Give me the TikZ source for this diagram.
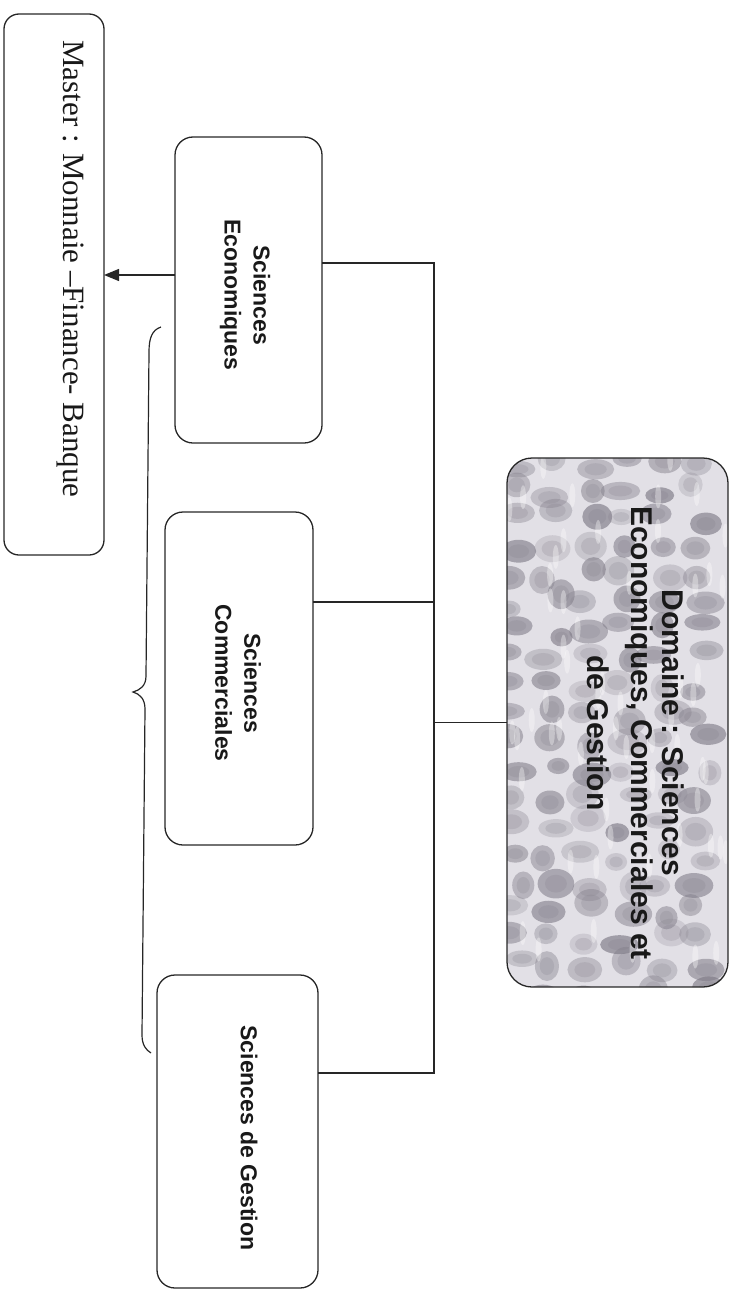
\documentclass[tikz,border=0pt]{standalone}
\usepackage{fontspec}
\setmainfont{Liberation Serif}
\newfontfamily\arialfont{Liberation Sans}
\usetikzlibrary{arrows.meta}
\definecolor{texbase}{RGB}{226,224,230}
\definecolor{texdark}{RGB}{125,121,133}
\tikzset{
  box/.style={draw=black!85, line width=1.3pt, rounded corners=18pt, inner sep=0pt, outer sep=0pt, fill=none},
  conn/.style={draw=black!85, line width=1.3pt},
  arr/.style={conn, -{Triangle[length=15pt,width=12pt]}},
  lbl/.style={rotate=-90, align=center, inner sep=0pt, text=black!90},
  sanslbl/.style={lbl, font=\arialfont\bfseries\fontsize{23}{29}\selectfont},
  domlbl/.style={lbl, font=\arialfont\bfseries\fontsize{30}{31}\selectfont},
  mastlbl/.style={lbl, font=\fontsize{31}{36}\selectfont},
}
\begin{document}
\begin{tikzpicture}[x=1pt,y=-1pt]
\useasboundingbox (0,0) rectangle (742,1290);
% textured background of the Domaine box
\begin{scope}
  \clip[rounded corners=25pt] (507,458) rectangle (728,987);
  \fill[texbase] (507,458) rectangle (728,987);
  \pgfmathsetseed{11}
  \foreach \cx in {515,552,...,735} {
    \foreach \cy in {462,490,...,995} {
      \pgfmathsetmacro\jx{\cx+20*rnd-10}
      \pgfmathsetmacro\jy{\cy+16*rnd-8}
      \pgfmathsetmacro\op{0.2+0.45*rnd}
      \pgfmathsetmacro\rx{11+9*rnd}
      \pgfmathsetmacro\ry{8+7*rnd}
      \fill[texdark, opacity=\op] (\jx,\jy) ellipse [x radius=\rx, y radius=\ry];
      \fill[texdark, opacity=0.2] (\jx,\jy) ellipse [x radius=0.6*\rx, y radius=0.6*\ry];
    }
  }
  \foreach \i in {1,...,60} {
    \pgfmathsetmacro\wx{507+221*rnd}
    \pgfmathsetmacro\wy{458+529*rnd}
    \fill[white, opacity=0.35] (\wx,\wy) ellipse [x radius=3, y radius=12];
  }
\end{scope}
% boxes
\node[box, rounded corners=15pt, minimum width=100pt, minimum height=541pt] (master) at (54,284.5) {};
\node[box, minimum width=147pt, minimum height=306pt] (se) at (248.5,290) {};
\node[box, minimum width=148pt, minimum height=333pt] (sc) at (239,678.5) {};
\node[box, minimum width=161pt, minimum height=313pt] (sg) at (237.5,1131.5) {};
\node[box, rounded corners=25pt, minimum width=221pt, minimum height=529pt] (dom) at (617.5,722.5) {};
% texts
\node[mastlbl] (master-t) at (70,269) {Master : Monnaie --Finance- Banque};
\node[sanslbl] (se-t) at (245,295) {Sciences\\Economiques};
\node[sanslbl] (sc-t) at (238,683) {Sciences\\Commerciales};
\node[sanslbl] (sg-t) at (249,1138) {Sciences de Gestion};
\node[domlbl] (dom-t) at (636,733) {Domaine : Sciences\\Economiques, Commerciales et\\[13pt]de Gestion};
% connectors
\coordinate (tb) at (434,1073);
\draw[conn] ([yshift=27pt]se.east) -| (tb) -- ([yshift=58.5pt]sg.east);
\draw[conn] ([yshift=76.5pt]sc.east) -- ([yshift=76.5pt]sc.east -| tb);
\draw[conn] (dom.west) -- (dom.west -| tb);
\draw[arr] ([yshift=15pt]se.west) -- ([yshift=15pt]se.west -| master.east);
% brace
\coordinate (bt) at (161,327);
\coordinate (tip) at (133,692);
\coordinate (bb) at (151,1053);
\draw[conn, line width=1.2pt] (bt) .. controls (152,330) and (149,338) .. (149,352) -- (146,676)
  .. controls (146,686) and (140,690) .. (tip)
  .. controls (140,694) and (145,699) .. (145,709) -- (142,1035)
  .. controls (142,1045) and (146,1050) .. (bb);
\end{tikzpicture}
\end{document}
